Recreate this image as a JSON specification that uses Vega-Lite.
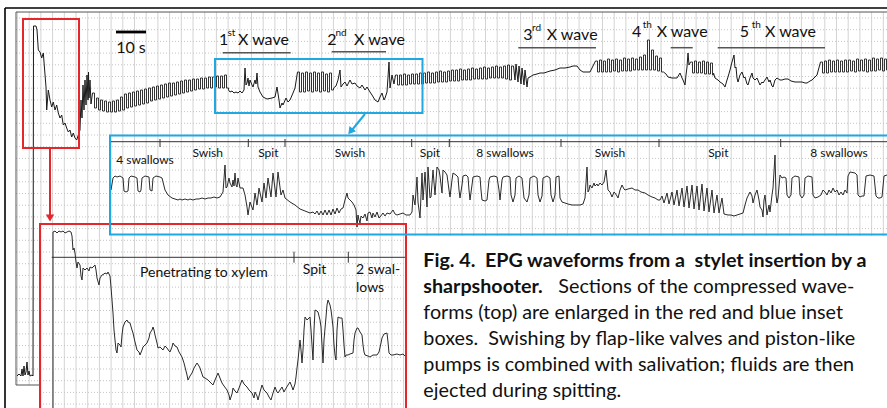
{
"$schema": "https://vega.github.io/schema/vega-lite/v6.json",
"width": 887, "height": 408, "padding": 0, "autosize": {"type": "none"},
"background": "white",
"config": {"view": {"stroke": null}},
"datasets": {
"gx": [{"v":17.5},{"v":29.2},{"v":40.9},{"v":52.6},{"v":64.3},{"v":76},{"v":87.7},{"v":99.4},{"v":111.1},{"v":122.8},{"v":134.5},{"v":146.2},{"v":157.9},{"v":169.6},{"v":181.3},{"v":193},{"v":204.7},{"v":216.4},{"v":228.1},{"v":239.8},{"v":251.5},{"v":263.2},{"v":274.9},{"v":286.6},{"v":298.3},{"v":310},{"v":321.7},{"v":333.4},{"v":345.1},{"v":356.8},{"v":368.5},{"v":380.2},{"v":391.9},{"v":403.6},{"v":415.3},{"v":427},{"v":438.7},{"v":450.4},{"v":462.1},{"v":473.8},{"v":485.5},{"v":497.2},{"v":508.9},{"v":520.6},{"v":532.3},{"v":544},{"v":555.7},{"v":567.4},{"v":579.1},{"v":590.8},{"v":602.5},{"v":614.2},{"v":625.9},{"v":637.6},{"v":649.3},{"v":661},{"v":672.7},{"v":684.4},{"v":696.1},{"v":707.8},{"v":719.5},{"v":731.2},{"v":742.9},{"v":754.6},{"v":766.3},{"v":778},{"v":789.7},{"v":801.4},{"v":813.1},{"v":824.8},{"v":836.5},{"v":848.2},{"v":859.9},{"v":871.6},{"v":883.3}],
"gy": [{"v":18},{"v":29.7},{"v":41.4},{"v":53.1},{"v":64.8},{"v":76.5},{"v":88.2},{"v":99.9},{"v":111.6},{"v":123.3},{"v":135},{"v":146.7},{"v":158.4},{"v":170.1},{"v":181.8},{"v":193.5},{"v":205.2},{"v":216.9},{"v":228.6},{"v":240.3},{"v":252},{"v":263.7},{"v":275.4},{"v":287.1},{"v":298.8},{"v":310.5},{"v":322.2},{"v":333.9},{"v":345.6},{"v":357.3},{"v":369},{"v":380.7},{"v":392.4},{"v":404.1}],
"white": [
{"x":0,"y":0,"x2":887,"y2":12},
{"x":0,"y":0,"x2":16,"y2":408},
{"x":0,"y":385,"x2":40,"y2":408},
{"x":406,"y":236,"x2":887,"y2":408}
],
"seg": [
{"g":"outer","x":5,"y":8,"x2":887,"y2":8},
{"g":"outer","x":5,"y":8,"x2":5,"y2":408},
{"g":"inner","x":16,"y":12,"x2":887,"y2":12},
{"g":"inner","x":16,"y":12,"x2":16,"y2":385},
{"g":"inner","x":16,"y":385,"x2":40,"y2":385},
{"g":"scale","x":116,"y":32,"x2":146,"y2":32},
{"g":"ul","x":222.7,"y":52.7,"x2":290.7,"y2":52.7},
{"g":"ul","x":331.7,"y":51.7,"x2":386,"y2":51.7},
{"g":"ul","x":518.3,"y":47.7,"x2":596,"y2":47.7},
{"g":"ul","x":670.7,"y":47.7,"x2":692.7,"y2":47.7},
{"g":"ul","x":717.7,"y":47.7,"x2":825,"y2":47.7},
{"g":"ax","x":110,"y":141.7,"x2":887,"y2":141.7},
{"g":"ax","x":160,"y":139,"x2":160,"y2":147},
{"g":"ax","x":248.3,"y":139,"x2":248.3,"y2":147},
{"g":"ax","x":285,"y":139,"x2":285,"y2":147},
{"g":"ax","x":411.7,"y":139,"x2":411.7,"y2":147},
{"g":"ax","x":449.3,"y":139,"x2":449.3,"y2":147},
{"g":"ax","x":561,"y":139,"x2":561,"y2":147},
{"g":"ax","x":659,"y":139,"x2":659,"y2":147},
{"g":"ax","x":780.7,"y":139,"x2":780.7,"y2":147},
{"g":"ax","x":51.7,"y":257.3,"x2":405,"y2":257.3},
{"g":"ax","x":294,"y":251.7,"x2":294,"y2":262.7},
{"g":"ax","x":348.3,"y":251.7,"x2":348.3,"y2":262.7},
{"g":"redarrow","x":50,"y":148,"x2":50,"y2":215},
{"g":"bluearrow","x":365,"y":114,"x2":352,"y2":130}
],
"box": [
{"g":"red","x":23,"y":19,"x2":79,"y2":148},
{"g":"red","x":40,"y":224,"x2":406,"y2":412},
{"g":"blue","x":215,"y":59,"x2":422.5,"y2":113},
{"g":"blue","x":110,"y":135.5,"x2":892,"y2":234.5}
],
"head": [
{"g":"red","x":50,"y":218,"a":0},
{"g":"blue","x":350.5,"y":131.5,"a":38}
],
"txt": [
{"g":"num","t":"1","x":223.7,"y":45},
{"g":"sup","t":"st","x":227.5,"y":36},
{"g":"lab","t":"X wave","x":238,"y":45},
{"g":"num","t":"2","x":332,"y":45},
{"g":"sup","t":"nd","x":335.5,"y":36},
{"g":"lab","t":"X wave","x":354,"y":45},
{"g":"num","t":"3","x":528,"y":40},
{"g":"sup","t":"rd","x":532,"y":31},
{"g":"lab","t":"X wave","x":546.7,"y":40},
{"g":"num","t":"4","x":636.7,"y":37.3},
{"g":"sup","t":"th","x":642.7,"y":28.3},
{"g":"lab","t":"X wave","x":656.7,"y":37.3},
{"g":"num","t":"5","x":744.5,"y":37.3},
{"g":"sup","t":"th","x":751.7,"y":28.3},
{"g":"lab","t":"X wave","x":765,"y":37.3},
{"g":"num","t":"10 s","x":131,"y":52.5},
{"g":"bl","t":"4 swallows","x":145,"y":164},
{"g":"bl","t":"Swish","x":207.7,"y":156.5},
{"g":"bl","t":"Spit","x":268.3,"y":156.5},
{"g":"bl","t":"Swish","x":350,"y":156.5},
{"g":"bl","t":"Spit","x":430,"y":156.5},
{"g":"bl","t":"8 swallows","x":505,"y":156.5},
{"g":"bl","t":"Swish","x":610,"y":156.5},
{"g":"bl","t":"Spit","x":718.3,"y":156.5},
{"g":"bl","t":"8 swallows","x":839,"y":156.5},
{"g":"rl","t":"Penetrating to xylem","x":140,"y":277.3},
{"g":"rl","t":"Spit","x":302.7,"y":274},
{"g":"rl","t":"2 swal-","x":356,"y":274},
{"g":"rl","t":"lows","x":356,"y":291.7},
{"g":"cb","t":"Fig. 4.\u00a0 EPG waveforms from a\u00a0 stylet insertion by a","x":423.3,"y":267.3},
{"g":"cb","t":"sharpshooter.","x":423.3,"y":293.2},
{"g":"cr","t":"Sections of the compressed wave-","x":558.3,"y":293.2},
{"g":"cr","t":"forms (top) are enlarged in the red and blue inset","x":423.3,"y":319.1},
{"g":"cr","t":"boxes.\u00a0 Swishing by flap-like valves and piston-like","x":423.3,"y":345},
{"g":"cr","t":"pumps is combined with salivation; fluids are then","x":423.3,"y":370.9},
{"g":"cr","t":"ejected during spitting.","x":423.3,"y":396.8}
],
"wl": [
{"s":"a","x":17,"y":376},{"s":"a","x":19,"y":374},{"s":"a","x":21,"y":376},{"s":"a","x":22,"y":369},{"s":"a","x":23,"y":376},{"s":"a","x":24,"y":366},{"s":"a","x":25,"y":375},{"s":"a","x":26,"y":372},{"s":"a","x":27,"y":362},{"s":"a","x":28,"y":375},{"s":"a","x":29,"y":371},{"s":"a","x":30,"y":376},{"s":"a","x":32,"y":375},{"s":"a","x":33,"y":376},{"s":"a","x":33.5,"y":26},{"s":"a","x":36,"y":26},{"s":"a","x":37,"y":30},{"s":"a","x":38.3,"y":50},{"s":"a","x":40,"y":52},{"s":"a","x":41.7,"y":58},{"s":"a","x":43.3,"y":53},{"s":"a","x":44,"y":62},{"s":"a","x":46,"y":87},{"s":"a","x":46.7,"y":110},{"s":"a","x":48.3,"y":90},{"s":"a","x":50,"y":100},{"s":"a","x":51.7,"y":107},{"s":"a","x":53.3,"y":102},{"s":"a","x":55,"y":110},{"s":"a","x":56.7,"y":105},{"s":"a","x":58.3,"y":113},{"s":"a","x":60,"y":118},{"s":"a","x":61.7,"y":115},{"s":"a","x":63.3,"y":125},{"s":"a","x":65,"y":123},{"s":"a","x":66.7,"y":128},{"s":"a","x":68.3,"y":132},{"s":"a","x":70,"y":130},{"s":"a","x":71.7,"y":137},{"s":"a","x":73.3,"y":133},{"s":"a","x":75,"y":138},{"s":"a","x":76.7,"y":140},{"s":"a","x":78.3,"y":135},{"s":"a","x":80,"y":130},{"s":"a","x":81,"y":100},{"s":"a","x":82,"y":118},{"s":"a","x":83,"y":85},{"s":"a","x":84,"y":110},{"s":"a","x":85,"y":80},{"s":"a","x":86,"y":105},{"s":"a","x":87,"y":75},{"s":"a","x":88,"y":100},{"s":"a","x":88.5,"y":72},{"s":"a","x":89,"y":98},{"s":"a","x":90,"y":80},{"s":"a","x":91,"y":104},{"s":"a","x":92.5,"y":93},
{"s":"b","x":228.5,"y":90},{"s":"b","x":230,"y":92},{"s":"b","x":232,"y":91},{"s":"b","x":234,"y":93},{"s":"b","x":236,"y":92},{"s":"b","x":238,"y":93},{"s":"b","x":240,"y":91},{"s":"b","x":242,"y":93},{"s":"b","x":244,"y":90},{"s":"b","x":245,"y":68},{"s":"b","x":246,"y":85},{"s":"b","x":247,"y":83},{"s":"b","x":248,"y":78},{"s":"b","x":249,"y":86},{"s":"b","x":250,"y":80},{"s":"b","x":252,"y":85},{"s":"b","x":253,"y":87},{"s":"b","x":255,"y":80},{"s":"b","x":256,"y":84},{"s":"b","x":257,"y":73},{"s":"b","x":258,"y":87},{"s":"b","x":260,"y":92},{"s":"b","x":263,"y":97},{"s":"b","x":267,"y":99},{"s":"b","x":272,"y":98},{"s":"b","x":275,"y":97},{"s":"b","x":277,"y":87},{"s":"b","x":279,"y":100},{"s":"b","x":280,"y":108},{"s":"b","x":282,"y":103},{"s":"b","x":283,"y":105},{"s":"b","x":286,"y":98},{"s":"b","x":288,"y":102},{"s":"b","x":290,"y":100},{"s":"b","x":293,"y":93},{"s":"b","x":295,"y":88},{"s":"b","x":297.5,"y":72},
{"s":"c","x":333.5,"y":88},{"s":"c","x":336,"y":86},{"s":"c","x":338,"y":80},{"s":"c","x":340,"y":70},{"s":"c","x":341,"y":87},{"s":"c","x":343,"y":84},{"s":"c","x":345,"y":82},{"s":"c","x":347,"y":86},{"s":"c","x":350,"y":80},{"s":"c","x":352,"y":84},{"s":"c","x":355,"y":83},{"s":"c","x":357,"y":86},{"s":"c","x":360,"y":88},{"s":"c","x":362,"y":85},{"s":"c","x":365,"y":90},{"s":"c","x":367,"y":87},{"s":"c","x":370,"y":92},{"s":"c","x":372,"y":95},{"s":"c","x":375,"y":100},{"s":"c","x":378,"y":102},{"s":"c","x":380,"y":97},{"s":"c","x":382,"y":93},{"s":"c","x":384,"y":100},{"s":"c","x":385,"y":98},{"s":"c","x":387,"y":92},{"s":"c","x":389,"y":62},{"s":"c","x":390,"y":88},{"s":"c","x":392,"y":75},{"s":"c","x":394,"y":84},{"s":"c","x":395.5,"y":75},
{"s":"d","x":513.5,"y":66},{"s":"d","x":515,"y":80},{"s":"d","x":516,"y":64},{"s":"d","x":518,"y":82},{"s":"d","x":519,"y":66},{"s":"d","x":521,"y":84},{"s":"d","x":522,"y":68},{"s":"d","x":524,"y":85},{"s":"d","x":525,"y":70},{"s":"d","x":527,"y":87},{"s":"d","x":528,"y":78},{"s":"d","x":530,"y":77},{"s":"d","x":533,"y":75},{"s":"d","x":537,"y":74},{"s":"d","x":540,"y":73},{"s":"d","x":544,"y":73},{"s":"d","x":547,"y":72},{"s":"d","x":550,"y":71},{"s":"d","x":555,"y":70},{"s":"d","x":560,"y":68},{"s":"d","x":565,"y":68},{"s":"d","x":570,"y":67},{"s":"d","x":573,"y":66},{"s":"d","x":577,"y":66},{"s":"d","x":580,"y":70},{"s":"d","x":583,"y":72},{"s":"d","x":587,"y":72},{"s":"d","x":590,"y":72},{"s":"d","x":595.5,"y":61},
{"s":"e","x":663.5,"y":72},{"s":"e","x":666,"y":74},{"s":"e","x":668,"y":77},{"s":"e","x":672,"y":78},{"s":"e","x":677,"y":78},{"s":"e","x":680,"y":73},{"s":"e","x":682,"y":78},{"s":"e","x":683,"y":80},{"s":"e","x":685,"y":85},{"s":"e","x":686,"y":75},{"s":"e","x":687,"y":67},{"s":"e","x":688,"y":53},{"s":"e","x":689,"y":65},{"s":"e","x":690.5,"y":62},
{"s":"f","x":713.5,"y":73},{"s":"f","x":715,"y":78},{"s":"f","x":718,"y":80},{"s":"f","x":720,"y":82},{"s":"f","x":723,"y":84},{"s":"f","x":725,"y":87},{"s":"f","x":727,"y":80},{"s":"f","x":728,"y":77},{"s":"f","x":730,"y":70},{"s":"f","x":732,"y":62},{"s":"f","x":734,"y":55},{"s":"f","x":735,"y":68},{"s":"f","x":736,"y":67},{"s":"f","x":737,"y":78},{"s":"f","x":738,"y":82},{"s":"f","x":740,"y":75},{"s":"f","x":742,"y":72},{"s":"f","x":744,"y":78},{"s":"f","x":745,"y":77},{"s":"f","x":747,"y":84},{"s":"f","x":748,"y":85},{"s":"f","x":750,"y":78},{"s":"f","x":752,"y":73},{"s":"f","x":753,"y":78},{"s":"f","x":755,"y":80},{"s":"f","x":757,"y":78},{"s":"f","x":760,"y":85},{"s":"f","x":762,"y":82},{"s":"f","x":763,"y":83},{"s":"f","x":765,"y":80},{"s":"f","x":767,"y":77},{"s":"f","x":769,"y":82},{"s":"f","x":770,"y":80},{"s":"f","x":772,"y":86},{"s":"f","x":773,"y":87},{"s":"f","x":775,"y":80},{"s":"f","x":777,"y":78},{"s":"f","x":780,"y":80},{"s":"f","x":782,"y":80},{"s":"f","x":785,"y":79},{"s":"f","x":788,"y":79},{"s":"f","x":791,"y":81},{"s":"f","x":795,"y":82},{"s":"f","x":800,"y":82},{"s":"f","x":802,"y":82},{"s":"f","x":805,"y":83},{"s":"f","x":807,"y":83},{"s":"f","x":810,"y":81},{"s":"f","x":812,"y":80},{"s":"f","x":815,"y":77},{"s":"f","x":817,"y":75},{"s":"f","x":820.5,"y":62}
],
"wp": [
{"s":"p1","x":92.5,"y":93},{"s":"p1","x":94.5,"y":108},{"s":"p1","x":96.5,"y":98},{"s":"p1","x":98.5,"y":110},{"s":"p1","x":100.5,"y":100},{"s":"p1","x":102.5,"y":111},{"s":"p1","x":104.5,"y":101},{"s":"p1","x":106.5,"y":112},{"s":"p1","x":108.5,"y":102},{"s":"p1","x":110.5,"y":112},{"s":"p1","x":112.5,"y":101},{"s":"p1","x":114.5,"y":112},{"s":"p1","x":116.5,"y":100},{"s":"p1","x":118.5,"y":111},{"s":"p1","x":120.5,"y":97},{"s":"p1","x":122.5,"y":110},{"s":"p1","x":124.5,"y":94},{"s":"p1","x":126.5,"y":108},{"s":"p1","x":128.5,"y":93},{"s":"p1","x":130.5,"y":107},{"s":"p1","x":132.5,"y":92},{"s":"p1","x":134.5,"y":106},{"s":"p1","x":136.5,"y":91},{"s":"p1","x":138.5,"y":105},{"s":"p1","x":140.5,"y":90},{"s":"p1","x":142.5,"y":104},{"s":"p1","x":144.5,"y":89},{"s":"p1","x":146.5,"y":103},{"s":"p1","x":148.5,"y":88},{"s":"p1","x":150.5,"y":101},{"s":"p1","x":152.5,"y":87},{"s":"p1","x":154.5,"y":100},{"s":"p1","x":156.5,"y":86},{"s":"p1","x":158.5,"y":99},{"s":"p1","x":160.5,"y":85},{"s":"p1","x":162.5,"y":98},{"s":"p1","x":164.5,"y":84},{"s":"p1","x":166.5,"y":97},{"s":"p1","x":168.5,"y":83},{"s":"p1","x":170.5,"y":96},{"s":"p1","x":172.5,"y":83},{"s":"p1","x":174.5,"y":95},{"s":"p1","x":176.5,"y":82},{"s":"p1","x":178.5,"y":94},{"s":"p1","x":180.5,"y":81},{"s":"p1","x":182.5,"y":93},{"s":"p1","x":184.5,"y":80},{"s":"p1","x":186.5,"y":92},{"s":"p1","x":188.5,"y":80},{"s":"p1","x":190.5,"y":91},{"s":"p1","x":192.5,"y":79},{"s":"p1","x":194.5,"y":90},{"s":"p1","x":196.5,"y":79},{"s":"p1","x":198.5,"y":89},{"s":"p1","x":200.5,"y":78},{"s":"p1","x":202.5,"y":89},{"s":"p1","x":204.5,"y":78},{"s":"p1","x":206.5,"y":88},{"s":"p1","x":208.5,"y":77},{"s":"p1","x":210.5,"y":88},{"s":"p1","x":212.5,"y":77},{"s":"p1","x":214.5,"y":87},{"s":"p1","x":216.5,"y":76},{"s":"p1","x":218.5,"y":88},{"s":"p1","x":220.5,"y":76},{"s":"p1","x":222.5,"y":88},{"s":"p1","x":224.5,"y":75},{"s":"p1","x":226.5,"y":88},{"s":"p1","x":228.5,"y":90},
{"s":"p2","x":297.5,"y":72},{"s":"p2","x":299.5,"y":92},{"s":"p2","x":301.5,"y":73},{"s":"p2","x":303.5,"y":92},{"s":"p2","x":305.5,"y":72},{"s":"p2","x":307.5,"y":91},{"s":"p2","x":309.5,"y":73},{"s":"p2","x":311.5,"y":92},{"s":"p2","x":313.5,"y":72},{"s":"p2","x":315.5,"y":91},{"s":"p2","x":317.5,"y":73},{"s":"p2","x":319.5,"y":92},{"s":"p2","x":321.5,"y":72},{"s":"p2","x":323.5,"y":91},{"s":"p2","x":325.5,"y":74},{"s":"p2","x":327.5,"y":92},{"s":"p2","x":329.5,"y":73},{"s":"p2","x":331.5,"y":90},{"s":"p2","x":333.5,"y":88},
{"s":"p3","x":395.5,"y":75},{"s":"p3","x":397.5,"y":85},{"s":"p3","x":399.5,"y":75},{"s":"p3","x":401.5,"y":85},{"s":"p3","x":403.5,"y":74},{"s":"p3","x":405.5,"y":85},{"s":"p3","x":407.5,"y":75},{"s":"p3","x":409.5,"y":84},{"s":"p3","x":411.5,"y":74},{"s":"p3","x":413.5,"y":84},{"s":"p3","x":415.5,"y":74},{"s":"p3","x":417.5,"y":84},{"s":"p3","x":419.5,"y":73},{"s":"p3","x":421.5,"y":84},{"s":"p3","x":423.5,"y":73},{"s":"p3","x":425.5,"y":83},{"s":"p3","x":427.5,"y":72},{"s":"p3","x":429.5,"y":83},{"s":"p3","x":431.5,"y":73},{"s":"p3","x":433.5,"y":83},{"s":"p3","x":435.5,"y":72},{"s":"p3","x":437.5,"y":82},{"s":"p3","x":439.5,"y":71},{"s":"p3","x":441.5,"y":82},{"s":"p3","x":443.5,"y":72},{"s":"p3","x":445.5,"y":82},{"s":"p3","x":447.5,"y":71},{"s":"p3","x":449.5,"y":81},{"s":"p3","x":451.5,"y":70},{"s":"p3","x":453.5,"y":81},{"s":"p3","x":455.5,"y":70},{"s":"p3","x":457.5,"y":81},{"s":"p3","x":459.5,"y":69},{"s":"p3","x":461.5,"y":80},{"s":"p3","x":463.5,"y":70},{"s":"p3","x":465.5,"y":80},{"s":"p3","x":467.5,"y":69},{"s":"p3","x":469.5,"y":80},{"s":"p3","x":471.5,"y":68},{"s":"p3","x":473.5,"y":79},{"s":"p3","x":475.5,"y":69},{"s":"p3","x":477.5,"y":79},{"s":"p3","x":479.5,"y":68},{"s":"p3","x":481.5,"y":79},{"s":"p3","x":483.5,"y":67},{"s":"p3","x":485.5,"y":79},{"s":"p3","x":487.5,"y":68},{"s":"p3","x":489.5,"y":78},{"s":"p3","x":491.5,"y":67},{"s":"p3","x":493.5,"y":78},{"s":"p3","x":495.5,"y":66},{"s":"p3","x":497.5,"y":78},{"s":"p3","x":499.5,"y":67},{"s":"p3","x":501.5,"y":78},{"s":"p3","x":503.5,"y":66},{"s":"p3","x":505.5,"y":79},{"s":"p3","x":507.5,"y":65},{"s":"p3","x":509.5,"y":80},{"s":"p3","x":511.5,"y":66},{"s":"p3","x":513.5,"y":66},
{"s":"p4","x":595.5,"y":61},{"s":"p4","x":597.5,"y":72},{"s":"p4","x":599.5,"y":60},{"s":"p4","x":601.5,"y":72},{"s":"p4","x":603.5,"y":61},{"s":"p4","x":605.5,"y":72},{"s":"p4","x":607.5,"y":59},{"s":"p4","x":609.5,"y":72},{"s":"p4","x":611.5,"y":60},{"s":"p4","x":613.5,"y":71},{"s":"p4","x":615.5,"y":59},{"s":"p4","x":617.5,"y":72},{"s":"p4","x":619.5,"y":60},{"s":"p4","x":621.5,"y":71},{"s":"p4","x":623.5,"y":58},{"s":"p4","x":625.5,"y":71},{"s":"p4","x":627.5,"y":59},{"s":"p4","x":629.5,"y":71},{"s":"p4","x":631.5,"y":58},{"s":"p4","x":633.5,"y":70},{"s":"p4","x":635.5,"y":59},{"s":"p4","x":637.5,"y":70},{"s":"p4","x":639.5,"y":57},{"s":"p4","x":641.5,"y":70},{"s":"p4","x":643.5,"y":55},{"s":"p4","x":645.5,"y":70},{"s":"p4","x":647.5,"y":40},{"s":"p4","x":649.5,"y":70},{"s":"p4","x":651.5,"y":50},{"s":"p4","x":653.5,"y":70},{"s":"p4","x":655.5,"y":56},{"s":"p4","x":657.5,"y":71},{"s":"p4","x":659.5,"y":58},{"s":"p4","x":661.5,"y":72},{"s":"p4","x":663.5,"y":72},
{"s":"p5","x":690.5,"y":62},{"s":"p5","x":692.5,"y":73},{"s":"p5","x":694.5,"y":61},{"s":"p5","x":696.5,"y":73},{"s":"p5","x":698.5,"y":62},{"s":"p5","x":700.5,"y":73},{"s":"p5","x":702.5,"y":61},{"s":"p5","x":704.5,"y":74},{"s":"p5","x":706.5,"y":62},{"s":"p5","x":708.5,"y":74},{"s":"p5","x":710.5,"y":63},{"s":"p5","x":712.5,"y":75},{"s":"p5","x":713.5,"y":73},
{"s":"p6","x":820.5,"y":62},{"s":"p6","x":822.5,"y":73},{"s":"p6","x":824.5,"y":61},{"s":"p6","x":826.5,"y":73},{"s":"p6","x":828.5,"y":60},{"s":"p6","x":830.5,"y":72},{"s":"p6","x":832.5,"y":61},{"s":"p6","x":834.5,"y":72},{"s":"p6","x":836.5,"y":60},{"s":"p6","x":838.5,"y":72},{"s":"p6","x":840.5,"y":61},{"s":"p6","x":842.5,"y":72},{"s":"p6","x":844.5,"y":60},{"s":"p6","x":846.5,"y":72},{"s":"p6","x":848.5,"y":60},{"s":"p6","x":850.5,"y":71},{"s":"p6","x":852.5,"y":61},{"s":"p6","x":854.5,"y":72},{"s":"p6","x":856.5,"y":59},{"s":"p6","x":858.5,"y":71},{"s":"p6","x":860.5,"y":60},{"s":"p6","x":862.5,"y":71},{"s":"p6","x":864.5,"y":59},{"s":"p6","x":866.5,"y":72},{"s":"p6","x":868.5,"y":60},{"s":"p6","x":870.5,"y":71},{"s":"p6","x":872.5,"y":58},{"s":"p6","x":874.5,"y":71},{"s":"p6","x":876.5,"y":59},{"s":"p6","x":878.5,"y":70},{"s":"p6","x":880.5,"y":58},{"s":"p6","x":882.5,"y":71},{"s":"p6","x":884.5,"y":59},{"s":"p6","x":886.5,"y":70},{"s":"p6","x":887,"y":70}
],
"ins": [
{"s":"blue","x":111,"y":190},{"s":"blue","x":113,"y":178},{"s":"blue","x":115,"y":176},{"s":"blue","x":117,"y":177},{"s":"blue","x":120,"y":176},{"s":"blue","x":123,"y":178},{"s":"blue","x":124,"y":191},{"s":"blue","x":126,"y":192},{"s":"blue","x":128,"y":191},{"s":"blue","x":129,"y":178},{"s":"blue","x":131,"y":176},{"s":"blue","x":135,"y":177},{"s":"blue","x":137,"y":178},{"s":"blue","x":138,"y":191},{"s":"blue","x":140,"y":192},{"s":"blue","x":141,"y":190},{"s":"blue","x":142,"y":178},{"s":"blue","x":145,"y":176},{"s":"blue","x":149,"y":177},{"s":"blue","x":150,"y":190},{"s":"blue","x":152,"y":191},{"s":"blue","x":153,"y":178},{"s":"blue","x":156,"y":176},{"s":"blue","x":160,"y":177},{"s":"blue","x":162,"y":178},{"s":"blue","x":165,"y":190},{"s":"blue","x":168,"y":195},{"s":"blue","x":172,"y":198},{"s":"blue","x":175,"y":199},{"s":"blue","x":178,"y":200},{"s":"blue","x":180,"y":199},{"s":"blue","x":182,"y":200},{"s":"blue","x":185,"y":199},{"s":"blue","x":188,"y":200},{"s":"blue","x":190,"y":199},{"s":"blue","x":193,"y":200},{"s":"blue","x":196,"y":199},{"s":"blue","x":199,"y":199},{"s":"blue","x":202,"y":198},{"s":"blue","x":205,"y":199},{"s":"blue","x":208,"y":198},{"s":"blue","x":211,"y":198},{"s":"blue","x":214,"y":197},{"s":"blue","x":217,"y":198},{"s":"blue","x":220,"y":197},{"s":"blue","x":223,"y":192},{"s":"blue","x":225,"y":165},{"s":"blue","x":226,"y":188},{"s":"blue","x":227,"y":187},{"s":"blue","x":229,"y":178},{"s":"blue","x":230,"y":183},{"s":"blue","x":232,"y":187},{"s":"blue","x":233,"y":180},{"s":"blue","x":234,"y":186},{"s":"blue","x":235,"y":173},{"s":"blue","x":236,"y":185},{"s":"blue","x":237,"y":187},{"s":"blue","x":238,"y":178},{"s":"blue","x":240,"y":188},{"s":"blue","x":243,"y":188},{"s":"blue","x":245,"y":195},{"s":"blue","x":247,"y":207},{"s":"blue","x":248,"y":215},{"s":"blue","x":250,"y":202},{"s":"blue","x":253,"y":210},{"s":"blue","x":255,"y":193},{"s":"blue","x":257,"y":205},{"s":"blue","x":259,"y":188},{"s":"blue","x":262,"y":202},{"s":"blue","x":264,"y":183},{"s":"blue","x":266,"y":198},{"s":"blue","x":268,"y":178},{"s":"blue","x":271,"y":197},{"s":"blue","x":273,"y":173},{"s":"blue","x":276,"y":197},{"s":"blue","x":278,"y":172},{"s":"blue","x":281,"y":195},{"s":"blue","x":283,"y":190},{"s":"blue","x":285,"y":198},{"s":"blue","x":290,"y":202},{"s":"blue","x":295,"y":205},{"s":"blue","x":300,"y":209},{"s":"blue","x":305,"y":211},{"s":"blue","x":310,"y":213},{"s":"blue","x":313,"y":212},{"s":"blue","x":315,"y":214},{"s":"blue","x":317,"y":211},{"s":"blue","x":319,"y":215},{"s":"blue","x":321,"y":211},{"s":"blue","x":323,"y":215},{"s":"blue","x":325,"y":210},{"s":"blue","x":327,"y":215},{"s":"blue","x":329,"y":210},{"s":"blue","x":331,"y":215},{"s":"blue","x":333,"y":209},{"s":"blue","x":335,"y":214},{"s":"blue","x":337,"y":208},{"s":"blue","x":339,"y":213},{"s":"blue","x":341,"y":209},{"s":"blue","x":343,"y":208},{"s":"blue","x":345,"y":200},{"s":"blue","x":347,"y":193},{"s":"blue","x":348,"y":198},{"s":"blue","x":350,"y":200},{"s":"blue","x":352,"y":202},{"s":"blue","x":354,"y":205},{"s":"blue","x":356,"y":210},{"s":"blue","x":357,"y":227},{"s":"blue","x":358,"y":215},{"s":"blue","x":359,"y":220},{"s":"blue","x":360,"y":223},{"s":"blue","x":361,"y":216},{"s":"blue","x":363,"y":218},{"s":"blue","x":365,"y":214},{"s":"blue","x":367,"y":221},{"s":"blue","x":368,"y":213},{"s":"blue","x":370,"y":212},{"s":"blue","x":372,"y":218},{"s":"blue","x":373,"y":213},{"s":"blue","x":375,"y":217},{"s":"blue","x":377,"y":212},{"s":"blue","x":379,"y":218},{"s":"blue","x":380,"y":217},{"s":"blue","x":383,"y":213},{"s":"blue","x":385,"y":216},{"s":"blue","x":387,"y":213},{"s":"blue","x":390,"y":214},{"s":"blue","x":393,"y":210},{"s":"blue","x":395,"y":214},{"s":"blue","x":397,"y":215},{"s":"blue","x":400,"y":214},{"s":"blue","x":403,"y":213},{"s":"blue","x":406,"y":215},{"s":"blue","x":410,"y":215},{"s":"blue","x":412,"y":212},{"s":"blue","x":413,"y":195},{"s":"blue","x":415,"y":205},{"s":"blue","x":417,"y":177},{"s":"blue","x":418,"y":202},{"s":"blue","x":420,"y":218},{"s":"blue","x":422,"y":173},{"s":"blue","x":423,"y":200},{"s":"blue","x":425,"y":172},{"s":"blue","x":427,"y":207},{"s":"blue","x":428,"y":167},{"s":"blue","x":430,"y":198},{"s":"blue","x":431,"y":197},{"s":"blue","x":433,"y":170},{"s":"blue","x":435,"y":195},{"s":"blue","x":437,"y":167},{"s":"blue","x":439,"y":170},{"s":"blue","x":440,"y":176},{"s":"blue","x":442,"y":193},{"s":"blue","x":443,"y":170},{"s":"blue","x":445,"y":172},{"s":"blue","x":447,"y":175},{"s":"blue","x":449,"y":190},{"s":"blue","x":450,"y":197},{"s":"blue","x":452,"y":180},{"s":"blue","x":453,"y":173},{"s":"blue","x":456,"y":175},{"s":"blue","x":458,"y":177},{"s":"blue","x":459,"y":190},{"s":"blue","x":460,"y":198},{"s":"blue","x":462,"y":185},{"s":"blue","x":463,"y":176},{"s":"blue","x":466,"y":175},{"s":"blue","x":468,"y":177},{"s":"blue","x":469,"y":190},{"s":"blue","x":470,"y":200},{"s":"blue","x":472,"y":185},{"s":"blue","x":473,"y":177},{"s":"blue","x":477,"y":176},{"s":"blue","x":480,"y":177},{"s":"blue","x":481,"y":190},{"s":"blue","x":482,"y":200},{"s":"blue","x":485,"y":201},{"s":"blue","x":487,"y":200},{"s":"blue","x":489,"y":180},{"s":"blue","x":490,"y":177},{"s":"blue","x":494,"y":176},{"s":"blue","x":497,"y":177},{"s":"blue","x":499,"y":190},{"s":"blue","x":500,"y":200},{"s":"blue","x":502,"y":180},{"s":"blue","x":503,"y":177},{"s":"blue","x":507,"y":176},{"s":"blue","x":510,"y":177},{"s":"blue","x":511,"y":195},{"s":"blue","x":513,"y":202},{"s":"blue","x":515,"y":195},{"s":"blue","x":516,"y":178},{"s":"blue","x":519,"y":176},{"s":"blue","x":522,"y":178},{"s":"blue","x":524,"y":198},{"s":"blue","x":527,"y":202},{"s":"blue","x":529,"y":195},{"s":"blue","x":530,"y":178},{"s":"blue","x":534,"y":176},{"s":"blue","x":537,"y":178},{"s":"blue","x":538,"y":195},{"s":"blue","x":540,"y":202},{"s":"blue","x":542,"y":196},{"s":"blue","x":543,"y":178},{"s":"blue","x":547,"y":176},{"s":"blue","x":550,"y":178},{"s":"blue","x":551,"y":195},{"s":"blue","x":553,"y":202},{"s":"blue","x":555,"y":195},{"s":"blue","x":556,"y":177},{"s":"blue","x":559,"y":176},{"s":"blue","x":560,"y":198},{"s":"blue","x":562,"y":202},{"s":"blue","x":565,"y":203},{"s":"blue","x":568,"y":204},{"s":"blue","x":572,"y":205},{"s":"blue","x":576,"y":205},{"s":"blue","x":580,"y":205},{"s":"blue","x":583,"y":204},{"s":"blue","x":585,"y":198},{"s":"blue","x":587,"y":167},{"s":"blue","x":588,"y":192},{"s":"blue","x":589,"y":190},{"s":"blue","x":590,"y":185},{"s":"blue","x":592,"y":188},{"s":"blue","x":594,"y":183},{"s":"blue","x":595,"y":186},{"s":"blue","x":597,"y":184},{"s":"blue","x":598,"y":186},{"s":"blue","x":600,"y":183},{"s":"blue","x":602,"y":185},{"s":"blue","x":604,"y":182},{"s":"blue","x":606,"y":170},{"s":"blue","x":608,"y":190},{"s":"blue","x":610,"y":192},{"s":"blue","x":612,"y":197},{"s":"blue","x":614,"y":192},{"s":"blue","x":615,"y":193},{"s":"blue","x":617,"y":196},{"s":"blue","x":618,"y":198},{"s":"blue","x":620,"y":190},{"s":"blue","x":622,"y":185},{"s":"blue","x":624,"y":189},{"s":"blue","x":625,"y":190},{"s":"blue","x":628,"y":189},{"s":"blue","x":632,"y":188},{"s":"blue","x":635,"y":190},{"s":"blue","x":638,"y":190},{"s":"blue","x":641,"y":192},{"s":"blue","x":645,"y":193},{"s":"blue","x":648,"y":195},{"s":"blue","x":652,"y":197},{"s":"blue","x":655,"y":198},{"s":"blue","x":658,"y":200},{"s":"blue","x":660,"y":200},{"s":"blue","x":662,"y":196},{"s":"blue","x":664,"y":203},{"s":"blue","x":667,"y":193},{"s":"blue","x":669,"y":204},{"s":"blue","x":672,"y":192},{"s":"blue","x":674,"y":205},{"s":"blue","x":677,"y":190},{"s":"blue","x":679,"y":206},{"s":"blue","x":682,"y":188},{"s":"blue","x":684,"y":207},{"s":"blue","x":687,"y":186},{"s":"blue","x":689,"y":208},{"s":"blue","x":692,"y":185},{"s":"blue","x":694,"y":209},{"s":"blue","x":697,"y":186},{"s":"blue","x":699,"y":210},{"s":"blue","x":702,"y":184},{"s":"blue","x":704,"y":211},{"s":"blue","x":707,"y":188},{"s":"blue","x":709,"y":212},{"s":"blue","x":712,"y":190},{"s":"blue","x":714,"y":213},{"s":"blue","x":717,"y":195},{"s":"blue","x":719,"y":213},{"s":"blue","x":722,"y":198},{"s":"blue","x":724,"y":214},{"s":"blue","x":728,"y":215},{"s":"blue","x":731,"y":215},{"s":"blue","x":734,"y":216},{"s":"blue","x":737,"y":215},{"s":"blue","x":740,"y":214},{"s":"blue","x":743,"y":213},{"s":"blue","x":745,"y":205},{"s":"blue","x":747,"y":198},{"s":"blue","x":749,"y":194},{"s":"blue","x":750,"y":192},{"s":"blue","x":752,"y":196},{"s":"blue","x":753,"y":203},{"s":"blue","x":755,"y":195},{"s":"blue","x":757,"y":190},{"s":"blue","x":759,"y":200},{"s":"blue","x":760,"y":207},{"s":"blue","x":762,"y":210},{"s":"blue","x":763,"y":217},{"s":"blue","x":764,"y":200},{"s":"blue","x":765,"y":195},{"s":"blue","x":767,"y":215},{"s":"blue","x":769,"y":205},{"s":"blue","x":770,"y":212},{"s":"blue","x":772,"y":195},{"s":"blue","x":773,"y":188},{"s":"blue","x":775,"y":155},{"s":"blue","x":776,"y":195},{"s":"blue","x":777,"y":203},{"s":"blue","x":778,"y":198},{"s":"blue","x":780,"y":175},{"s":"blue","x":782,"y":178},{"s":"blue","x":784,"y":177},{"s":"blue","x":786,"y":178},{"s":"blue","x":787,"y":195},{"s":"blue","x":789,"y":198},{"s":"blue","x":791,"y":195},{"s":"blue","x":792,"y":178},{"s":"blue","x":795,"y":176},{"s":"blue","x":799,"y":177},{"s":"blue","x":800,"y":195},{"s":"blue","x":802,"y":198},{"s":"blue","x":804,"y":195},{"s":"blue","x":805,"y":178},{"s":"blue","x":808,"y":176},{"s":"blue","x":812,"y":177},{"s":"blue","x":813,"y":195},{"s":"blue","x":815,"y":198},{"s":"blue","x":818,"y":197},{"s":"blue","x":821,"y":195},{"s":"blue","x":823,"y":190},{"s":"blue","x":825,"y":192},{"s":"blue","x":827,"y":195},{"s":"blue","x":829,"y":190},{"s":"blue","x":831,"y":193},{"s":"blue","x":833,"y":188},{"s":"blue","x":835,"y":192},{"s":"blue","x":837,"y":190},{"s":"blue","x":839,"y":195},{"s":"blue","x":841,"y":192},{"s":"blue","x":843,"y":195},{"s":"blue","x":845,"y":190},{"s":"blue","x":847,"y":193},{"s":"blue","x":848,"y":176},{"s":"blue","x":850,"y":172},{"s":"blue","x":855,"y":173},{"s":"blue","x":857,"y":175},{"s":"blue","x":858,"y":195},{"s":"blue","x":860,"y":197},{"s":"blue","x":862,"y":196},{"s":"blue","x":864,"y":196},{"s":"blue","x":866,"y":176},{"s":"blue","x":870,"y":175},{"s":"blue","x":874,"y":176},{"s":"blue","x":876,"y":196},{"s":"blue","x":878,"y":198},{"s":"blue","x":880,"y":198},{"s":"blue","x":882,"y":197},{"s":"blue","x":884,"y":176},{"s":"blue","x":887,"y":175},
{"s":"red","x":53,"y":408},{"s":"red","x":53,"y":232},{"s":"red","x":55,"y":231},{"s":"red","x":57,"y":233},{"s":"red","x":59,"y":231},{"s":"red","x":61,"y":232},{"s":"red","x":63,"y":231},{"s":"red","x":65,"y":233},{"s":"red","x":67,"y":232},{"s":"red","x":69,"y":231},{"s":"red","x":71,"y":232},{"s":"red","x":72,"y":236},{"s":"red","x":73,"y":250},{"s":"red","x":74,"y":248},{"s":"red","x":75,"y":253},{"s":"red","x":76,"y":262},{"s":"red","x":77,"y":268},{"s":"red","x":78,"y":262},{"s":"red","x":80,"y":265},{"s":"red","x":81,"y":276},{"s":"red","x":82,"y":280},{"s":"red","x":83,"y":268},{"s":"red","x":85,"y":270},{"s":"red","x":87,"y":268},{"s":"red","x":89,"y":271},{"s":"red","x":90,"y":267},{"s":"red","x":92,"y":268},{"s":"red","x":95,"y":265},{"s":"red","x":96,"y":270},{"s":"red","x":97,"y":278},{"s":"red","x":99,"y":285},{"s":"red","x":100,"y":278},{"s":"red","x":102,"y":275},{"s":"red","x":104,"y":274},{"s":"red","x":105,"y":273},{"s":"red","x":107,"y":274},{"s":"red","x":108,"y":272},{"s":"red","x":110,"y":276},{"s":"red","x":111,"y":287},{"s":"red","x":112,"y":300},{"s":"red","x":113,"y":313},{"s":"red","x":114,"y":330},{"s":"red","x":115,"y":340},{"s":"red","x":116,"y":350},{"s":"red","x":117,"y":353},{"s":"red","x":118,"y":343},{"s":"red","x":120,"y":345},{"s":"red","x":121,"y":347},{"s":"red","x":122,"y":335},{"s":"red","x":123,"y":327},{"s":"red","x":125,"y":322},{"s":"red","x":127,"y":320},{"s":"red","x":128,"y":322},{"s":"red","x":130,"y":323},{"s":"red","x":132,"y":330},{"s":"red","x":133,"y":333},{"s":"red","x":135,"y":342},{"s":"red","x":137,"y":350},{"s":"red","x":139,"y":352},{"s":"red","x":140,"y":355},{"s":"red","x":142,"y":350},{"s":"red","x":143,"y":347},{"s":"red","x":145,"y":345},{"s":"red","x":147,"y":343},{"s":"red","x":149,"y":338},{"s":"red","x":150,"y":333},{"s":"red","x":152,"y":330},{"s":"red","x":153,"y":327},{"s":"red","x":154,"y":330},{"s":"red","x":155,"y":335},{"s":"red","x":157,"y":343},{"s":"red","x":158,"y":348},{"s":"red","x":160,"y":347},{"s":"red","x":163,"y":350},{"s":"red","x":165,"y":346},{"s":"red","x":167,"y":348},{"s":"red","x":169,"y":351},{"s":"red","x":170,"y":352},{"s":"red","x":172,"y":347},{"s":"red","x":173,"y":343},{"s":"red","x":175,"y":346},{"s":"red","x":177,"y":347},{"s":"red","x":179,"y":352},{"s":"red","x":182,"y":357},{"s":"red","x":184,"y":363},{"s":"red","x":185,"y":367},{"s":"red","x":187,"y":375},{"s":"red","x":188,"y":380},{"s":"red","x":190,"y":376},{"s":"red","x":192,"y":373},{"s":"red","x":194,"y":368},{"s":"red","x":197,"y":363},{"s":"red","x":199,"y":366},{"s":"red","x":200,"y":368},{"s":"red","x":202,"y":374},{"s":"red","x":203,"y":377},{"s":"red","x":205,"y":378},{"s":"red","x":208,"y":380},{"s":"red","x":210,"y":382},{"s":"red","x":213,"y":385},{"s":"red","x":215,"y":380},{"s":"red","x":218,"y":373},{"s":"red","x":220,"y":378},{"s":"red","x":222,"y":383},{"s":"red","x":224,"y":386},{"s":"red","x":227,"y":390},{"s":"red","x":229,"y":395},{"s":"red","x":230,"y":400},{"s":"red","x":232,"y":394},{"s":"red","x":233,"y":388},{"s":"red","x":235,"y":391},{"s":"red","x":237,"y":393},{"s":"red","x":239,"y":388},{"s":"red","x":242,"y":380},{"s":"red","x":244,"y":384},{"s":"red","x":247,"y":387},{"s":"red","x":249,"y":390},{"s":"red","x":252,"y":393},{"s":"red","x":254,"y":398},{"s":"red","x":255,"y":392},{"s":"red","x":257,"y":396},{"s":"red","x":258,"y":400},{"s":"red","x":260,"y":392},{"s":"red","x":262,"y":385},{"s":"red","x":264,"y":390},{"s":"red","x":267,"y":393},{"s":"red","x":269,"y":397},{"s":"red","x":271,"y":400},{"s":"red","x":273,"y":393},{"s":"red","x":275,"y":387},{"s":"red","x":277,"y":392},{"s":"red","x":278,"y":393},{"s":"red","x":280,"y":390},{"s":"red","x":282,"y":387},{"s":"red","x":284,"y":392},{"s":"red","x":285,"y":390},{"s":"red","x":288,"y":385},{"s":"red","x":290,"y":382},{"s":"red","x":292,"y":387},{"s":"red","x":293,"y":390},{"s":"red","x":295,"y":384},{"s":"red","x":296,"y":377},{"s":"red","x":297,"y":368},{"s":"red","x":298,"y":360},{"s":"red","x":300,"y":340},{"s":"red","x":301,"y":350},{"s":"red","x":302,"y":363},{"s":"red","x":303,"y":350},{"s":"red","x":304,"y":330},{"s":"red","x":305,"y":317},{"s":"red","x":307,"y":320},{"s":"red","x":309,"y":318},{"s":"red","x":310,"y":317},{"s":"red","x":311,"y":330},{"s":"red","x":312,"y":345},{"s":"red","x":313,"y":360},{"s":"red","x":314,"y":330},{"s":"red","x":315,"y":310},{"s":"red","x":317,"y":311},{"s":"red","x":318,"y":312},{"s":"red","x":320,"y":320},{"s":"red","x":321,"y":327},{"s":"red","x":322,"y":345},{"s":"red","x":323,"y":363},{"s":"red","x":324,"y":340},{"s":"red","x":326,"y":317},{"s":"red","x":327,"y":305},{"s":"red","x":328,"y":300},{"s":"red","x":330,"y":305},{"s":"red","x":331,"y":310},{"s":"red","x":332,"y":318},{"s":"red","x":333,"y":327},{"s":"red","x":334,"y":345},{"s":"red","x":335,"y":355},{"s":"red","x":336,"y":360},{"s":"red","x":337,"y":330},{"s":"red","x":338,"y":317},{"s":"red","x":340,"y":318},{"s":"red","x":342,"y":318},{"s":"red","x":343,"y":330},{"s":"red","x":344,"y":345},{"s":"red","x":345,"y":357},{"s":"red","x":346,"y":355},{"s":"red","x":348,"y":355},{"s":"red","x":350,"y":354},{"s":"red","x":353,"y":353},{"s":"red","x":354,"y":340},{"s":"red","x":355,"y":333},{"s":"red","x":357,"y":328},{"s":"red","x":358,"y":328},{"s":"red","x":360,"y":332},{"s":"red","x":362,"y":335},{"s":"red","x":363,"y":345},{"s":"red","x":364,"y":352},{"s":"red","x":365,"y":355},{"s":"red","x":368,"y":356},{"s":"red","x":370,"y":357},{"s":"red","x":373,"y":355},{"s":"red","x":377,"y":355},{"s":"red","x":379,"y":352},{"s":"red","x":381,"y":343},{"s":"red","x":382,"y":338},{"s":"red","x":384,"y":334},{"s":"red","x":387,"y":333},{"s":"red","x":388,"y":342},{"s":"red","x":389,"y":353},{"s":"red","x":391,"y":355},{"s":"red","x":393,"y":355},{"s":"red","x":397,"y":354},{"s":"red","x":400,"y":355},{"s":"red","x":403,"y":354},{"s":"red","x":405,"y":356}
]
},
"layer": [
{"data": {"name": "gx"}, "mark": {"type": "rule", "color": "#d4d4d4", "strokeWidth": 1}, "encoding": {"x": {"field": "v", "type": "quantitative", "scale": {"domain": [0, 887], "nice": false, "zero": false}, "axis": null}}},
{"data": {"name": "gy"}, "mark": {"type": "rule", "color": "#c4c4c4", "strokeWidth": 1, "strokeDash": [1, 2]}, "encoding": {"y": {"field": "v", "type": "quantitative", "scale": {"domain": [0, 408], "nice": false, "zero": false, "reverse": true}, "axis": null}}},
{"data": {"name": "white"}, "mark": {"type": "rect", "fill": "white", "strokeWidth": 0},
 "encoding": {"x": {"field": "x", "type": "quantitative", "scale": {"domain": [0, 887], "nice": false, "zero": false}, "axis": null}, "y": {"field": "y", "type": "quantitative", "scale": {"domain": [0, 408], "nice": false, "zero": false, "reverse": true}, "axis": null}, "x2": {"field": "x2"}, "y2": {"field": "y2"}}},
{"data": {"name": "seg"}, "transform": [{"filter": "datum.g == 'outer'"}], "mark": {"type": "rule", "color": "#000000", "strokeWidth": 1.6}, "encoding": {"x": {"field": "x", "type": "quantitative", "axis": null}, "y": {"field": "y", "type": "quantitative", "axis": null}, "x2": {"field": "x2"}, "y2": {"field": "y2"}}},
{"data": {"name": "seg"}, "transform": [{"filter": "datum.g == 'inner'"}], "mark": {"type": "rule", "color": "#555555", "strokeWidth": 1}, "encoding": {"x": {"field": "x", "type": "quantitative", "axis": null}, "y": {"field": "y", "type": "quantitative", "axis": null}, "x2": {"field": "x2"}, "y2": {"field": "y2"}}},
{"data": {"name": "seg"}, "transform": [{"filter": "datum.g == 'scale'"}], "mark": {"type": "rule", "color": "#000000", "strokeWidth": 2.8}, "encoding": {"x": {"field": "x", "type": "quantitative", "axis": null}, "y": {"field": "y", "type": "quantitative", "axis": null}, "x2": {"field": "x2"}, "y2": {"field": "y2"}}},
{"data": {"name": "seg"}, "transform": [{"filter": "datum.g == 'ul'"}], "mark": {"type": "rule", "color": "#555555", "strokeWidth": 1.5}, "encoding": {"x": {"field": "x", "type": "quantitative", "axis": null}, "y": {"field": "y", "type": "quantitative", "axis": null}, "x2": {"field": "x2"}, "y2": {"field": "y2"}}},
{"data": {"name": "seg"}, "transform": [{"filter": "datum.g == 'ax'"}], "mark": {"type": "rule", "color": "#333333", "strokeWidth": 1}, "encoding": {"x": {"field": "x", "type": "quantitative", "axis": null}, "y": {"field": "y", "type": "quantitative", "axis": null}, "x2": {"field": "x2"}, "y2": {"field": "y2"}}},
{"data": {"name": "seg"}, "transform": [{"filter": "datum.g == 'redarrow'"}], "mark": {"type": "rule", "color": "#e5262b", "strokeWidth": 2}, "encoding": {"x": {"field": "x", "type": "quantitative", "axis": null}, "y": {"field": "y", "type": "quantitative", "axis": null}, "x2": {"field": "x2"}, "y2": {"field": "y2"}}},
{"data": {"name": "seg"}, "transform": [{"filter": "datum.g == 'bluearrow'"}], "mark": {"type": "rule", "color": "#20a8e2", "strokeWidth": 2}, "encoding": {"x": {"field": "x", "type": "quantitative", "axis": null}, "y": {"field": "y", "type": "quantitative", "axis": null}, "x2": {"field": "x2"}, "y2": {"field": "y2"}}},
{"data": {"name": "wl"}, "mark": {"type": "line", "color": "#1a1a1a", "strokeWidth": 1}, "encoding": {"x": {"field": "x", "type": "quantitative", "axis": null}, "y": {"field": "y", "type": "quantitative", "axis": null}, "detail": {"field": "s"}, "order": {"field": "x", "type": "quantitative"}}},
{"data": {"name": "wp"}, "mark": {"type": "line", "color": "#333333", "strokeWidth": 1, "interpolate": "step-after"}, "encoding": {"x": {"field": "x", "type": "quantitative", "axis": null}, "y": {"field": "y", "type": "quantitative", "axis": null}, "detail": {"field": "s"}, "order": {"field": "x", "type": "quantitative"}}},
{"data": {"name": "ins"}, "mark": {"type": "line", "color": "#2b2b2b", "strokeWidth": 1}, "encoding": {"x": {"field": "x", "type": "quantitative", "axis": null}, "y": {"field": "y", "type": "quantitative", "axis": null}, "detail": {"field": "s"}}},
{"data": {"name": "box"}, "transform": [{"filter": "datum.g == 'red'"}], "mark": {"type": "rect", "fill": "white", "fillOpacity": 0, "stroke": "#e5262b", "strokeWidth": 2}, "encoding": {"x": {"field": "x", "type": "quantitative", "axis": null}, "y": {"field": "y", "type": "quantitative", "axis": null}, "x2": {"field": "x2"}, "y2": {"field": "y2"}}},
{"data": {"name": "box"}, "transform": [{"filter": "datum.g == 'blue'"}], "mark": {"type": "rect", "fill": "white", "fillOpacity": 0, "stroke": "#20a8e2", "strokeWidth": 2}, "encoding": {"x": {"field": "x", "type": "quantitative", "axis": null}, "y": {"field": "y", "type": "quantitative", "axis": null}, "x2": {"field": "x2"}, "y2": {"field": "y2"}}},
{"data": {"name": "head"}, "transform": [{"filter": "datum.g == 'red'"}], "mark": {"type": "point", "shape": "triangle-down", "filled": true, "color": "#e5262b", "size": 70, "opacity": 1}, "encoding": {"x": {"field": "x", "type": "quantitative", "axis": null}, "y": {"field": "y", "type": "quantitative", "axis": null}, "angle": {"field": "a", "type": "quantitative", "scale": null}}},
{"data": {"name": "head"}, "transform": [{"filter": "datum.g == 'blue'"}], "mark": {"type": "point", "shape": "triangle-down", "filled": true, "color": "#20a8e2", "size": 70, "opacity": 1}, "encoding": {"x": {"field": "x", "type": "quantitative", "axis": null}, "y": {"field": "y", "type": "quantitative", "axis": null}, "angle": {"field": "a", "type": "quantitative", "scale": null}}},
{"data": {"name": "txt"}, "transform": [{"filter": "datum.g == 'num'"}], "mark": {"type": "text", "align": "center", "baseline": "alphabetic", "font": "Lato", "fontSize": 16, "color": "#111111"}, "encoding": {"x": {"field": "x", "type": "quantitative", "axis": null}, "y": {"field": "y", "type": "quantitative", "axis": null}, "text": {"field": "t"}}},
{"data": {"name": "txt"}, "transform": [{"filter": "datum.g == 'lab'"}], "mark": {"type": "text", "align": "left", "baseline": "alphabetic", "font": "Lato", "fontSize": 16, "color": "#111111"}, "encoding": {"x": {"field": "x", "type": "quantitative", "axis": null}, "y": {"field": "y", "type": "quantitative", "axis": null}, "text": {"field": "t"}}},
{"data": {"name": "txt"}, "transform": [{"filter": "datum.g == 'sup'"}], "mark": {"type": "text", "align": "left", "baseline": "alphabetic", "font": "Lato", "fontSize": 10, "color": "#111111"}, "encoding": {"x": {"field": "x", "type": "quantitative", "axis": null}, "y": {"field": "y", "type": "quantitative", "axis": null}, "text": {"field": "t"}}},
{"data": {"name": "txt"}, "transform": [{"filter": "datum.g == 'bl'"}], "mark": {"type": "text", "align": "center", "baseline": "alphabetic", "font": "Lato", "fontSize": 12, "color": "#111111"}, "encoding": {"x": {"field": "x", "type": "quantitative", "axis": null}, "y": {"field": "y", "type": "quantitative", "axis": null}, "text": {"field": "t"}}},
{"data": {"name": "txt"}, "transform": [{"filter": "datum.g == 'rl'"}], "mark": {"type": "text", "align": "left", "baseline": "alphabetic", "font": "Lato", "fontSize": 14, "color": "#111111"}, "encoding": {"x": {"field": "x", "type": "quantitative", "axis": null}, "y": {"field": "y", "type": "quantitative", "axis": null}, "text": {"field": "t"}}},
{"data": {"name": "txt"}, "transform": [{"filter": "datum.g == 'cb'"}], "mark": {"type": "text", "align": "left", "baseline": "alphabetic", "font": "Lato", "fontSize": 19.7, "fontWeight": "bold", "color": "#111111"}, "encoding": {"x": {"field": "x", "type": "quantitative", "axis": null}, "y": {"field": "y", "type": "quantitative", "axis": null}, "text": {"field": "t"}}},
{"data": {"name": "txt"}, "transform": [{"filter": "datum.g == 'cr'"}], "mark": {"type": "text", "align": "left", "baseline": "alphabetic", "font": "Lato", "fontSize": 19.8, "color": "#111111"}, "encoding": {"x": {"field": "x", "type": "quantitative", "axis": null}, "y": {"field": "y", "type": "quantitative", "axis": null}, "text": {"field": "t"}}}
]
}
